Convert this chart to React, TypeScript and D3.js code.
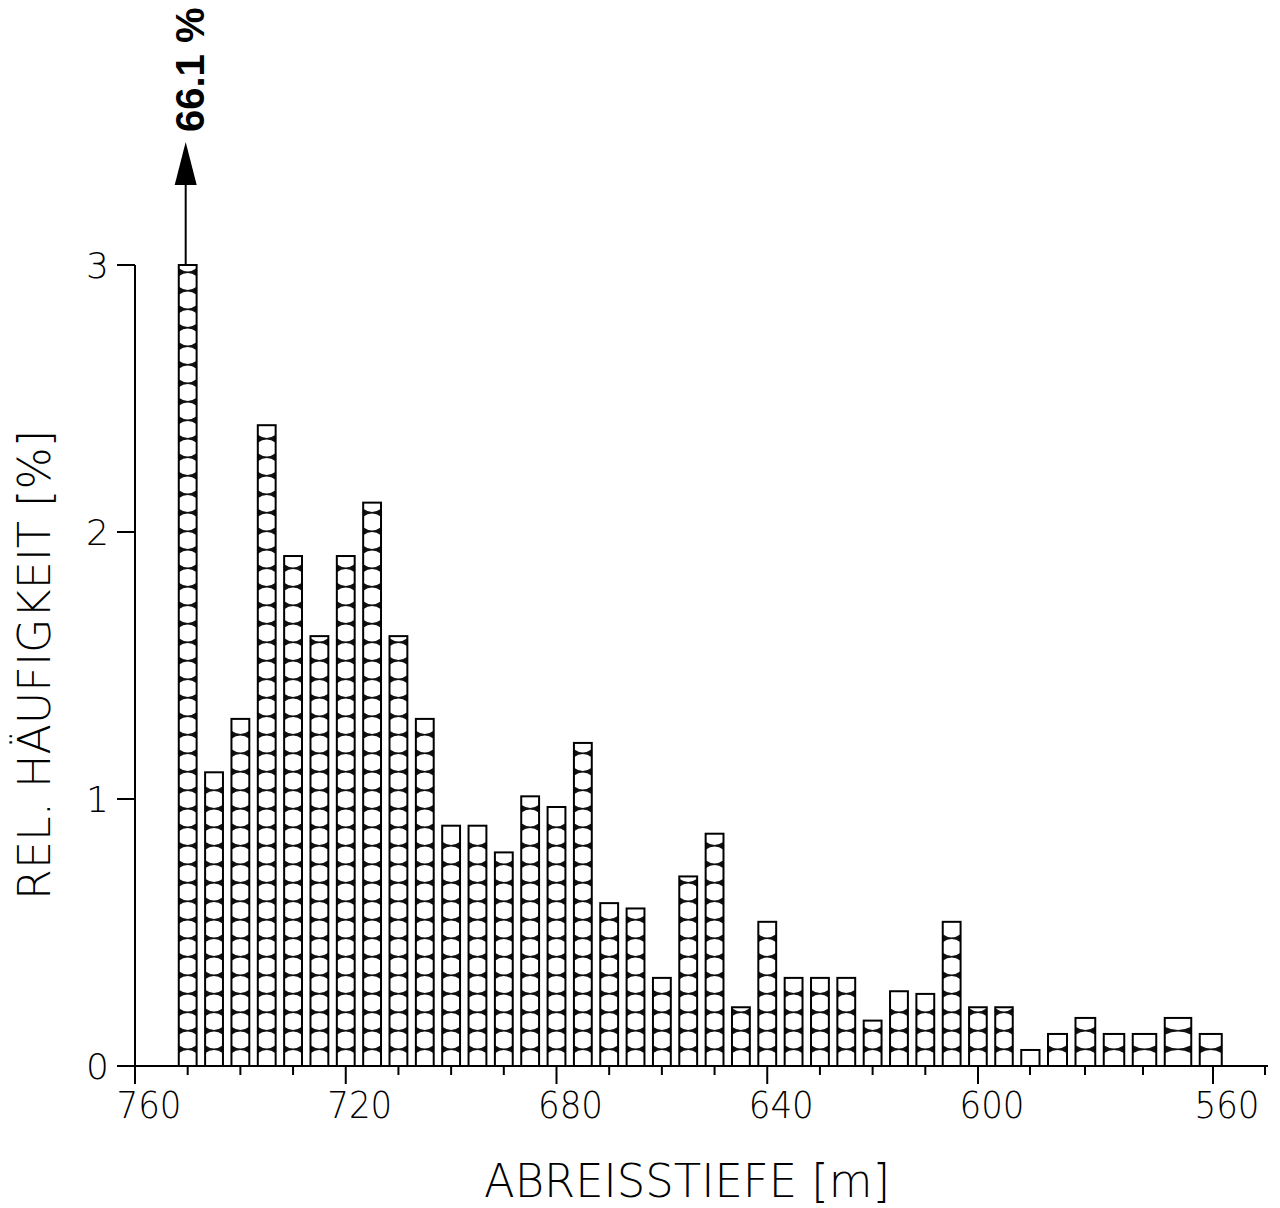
import React from 'react';
import * as d3 from 'd3';

// Bin centres (Abreisstiefe, m) and relative frequency (%)
const depths: number[] = [
  750, 745, 740, 735, 730, 725, 720, 715, 710, 705,
  700, 695, 690, 685, 680, 675, 670, 665, 660, 655,
  650, 645, 640, 635, 630, 625, 620, 615, 610, 605,
  600, 595, 590, 585, 580, 575, 570, 565, 560,
];
const freq: number[] = [
  66.1, 1.10, 1.30, 2.40, 1.91, 1.61, 1.91, 2.11, 1.61, 1.30,
  0.90, 0.90, 0.80, 1.01, 0.97, 1.21, 0.61, 0.59, 0.33, 0.71,
  0.87, 0.22, 0.54, 0.33, 0.33, 0.33, 0.17, 0.28, 0.27, 0.54,
  0.22, 0.22, 0.06, 0.12, 0.18, 0.12, 0.12, 0.18, 0.12,
];
const xMajorTicks: number[] = [760, 720, 680, 640, 600, 560];
const xMinorTicks: number[] = [750, 740, 730, 710, 700, 690, 670, 660, 650, 630, 620, 610, 590, 580, 570, 550];
const yTicks: number[] = [0, 1, 2, 3];
const yMax = 3;
const xLabel = 'ABREISSTIEFE [m]';
const yLabel = 'REL. HÄUFIGKEIT [%]';

const W = 1280;
const H = 1208;
const FONT = "'DejaVu Sans', 'Liberation Sans', sans-serif";

export default function App() {
  // the scanned axis is slightly stretched at its right end
  const x = d3.scaleLinear()
    .domain([760, 600, 590, 580, 570, 560, 550])
    .range([135, 978, 1030, 1085, 1143, 1213, 1265]);
  const y = d3.scaleLinear().domain([0, yMax]).range([1066, 265]);
  const y0 = y(0);
  const period = 18.5;
  const firstBand = 16.7;
  const gap = 8.5;
  const bh = 4.0;

  const bars = depths.map((d, i) => {
    const v = freq[i];
    const top = y(Math.min(v, yMax));
    const xl = x(d + 2.5);
    const xr = x(d - 2.5);
    const cx = (xl + xr) / 2;
    const w = xr - xl - gap;
    const x0 = cx - w / 2;
    const x1 = cx + w / 2;
    const bands: string[] = [];
    for (let by = y0 - firstBand; by > top + 3; by -= period) {
      bands.push(
        `M${x0},${by - bh} Q${cx},${by + bh * 0.6} ${x1},${by - bh} L${x1},${by + bh} Q${cx},${by - bh * 0.6} ${x0},${by + bh} Z`
      );
    }
    return { d, v, top, x0, x1, cx, w, bands, i };
  });

  const over = bars.filter((b) => b.v > yMax);

  return (
    <svg width={W} height={H} viewBox={`0 0 ${W} ${H}`}
      style={{ position: 'absolute', left: 0, top: 0, background: '#fff' }}>
      <defs>
        {bars.map((b) => (
          <clipPath id={`clip${b.i}`} key={b.i}>
            <rect x={b.x0} y={b.top} width={b.w} height={y0 - b.top} />
          </clipPath>
        ))}
      </defs>
      <rect x={0} y={0} width={W} height={H} fill="#fff" />

      {/* bars */}
      {bars.map((b) => (
        <g key={b.i}>
          <rect x={b.x0} y={b.top} width={b.w} height={y0 - b.top} fill="#fff" />
          <g clipPath={`url(#clip${b.i})`}>
            {b.bands.map((p, k) => (
              <path key={k} d={p} fill="#111" />
            ))}
          </g>
          <rect x={b.x0} y={b.top} width={b.w} height={y0 - b.top} fill="none" stroke="#000" strokeWidth={2} />
        </g>
      ))}

      {/* off-scale marker */}
      {over.map((b) => (
        <g key={`o${b.i}`}>
          <line x1={b.cx - 2} x2={b.cx - 2} y1={b.top} y2={183} stroke="#000" strokeWidth={2} />
          <path d={`M${b.cx - 2},142 L${b.cx - 13},185 L${b.cx + 9},185 Z`} fill="#000" />
          <text transform={`translate(${b.cx + 16},132) rotate(-90)`} fontFamily="'Liberation Sans', Arial, sans-serif"
            fontWeight="bold" fontSize={40} fill="#000">{`${b.v.toFixed(1)} %`}</text>
        </g>
      ))}

      {/* axes */}
      <line x1={118} x2={1268} y1={y0} y2={y0} stroke="#000" strokeWidth={2} />
      <line x1={135} x2={135} y1={y(yMax)} y2={y0} stroke="#000" strokeWidth={2} />

      {xMajorTicks.map((t) => (
        <g key={`M${t}`}>
          <line x1={x(t)} x2={x(t)} y1={y0} y2={y0 + 18} stroke="#000" strokeWidth={2} />
          <text x={x(t) + 14} y={1118} textAnchor="middle" fontFamily={FONT} fontSize={38} fontWeight={200}
            textLength={65} lengthAdjust="spacingAndGlyphs" fill="#000">{t}</text>
        </g>
      ))}
      {xMinorTicks.map((t) => (
        <line key={`m${t}`} x1={x(t)} x2={x(t)} y1={y0 + 1} y2={y0 + 9} stroke="#000" strokeWidth={2} />
      ))}

      {yTicks.map((t) => (
        <g key={`y${t}`}>
          <line x1={117} x2={135} y1={y(t)} y2={y(t)} stroke="#000" strokeWidth={2} />
          <text x={109} y={y(t) + 13} textAnchor="end" fontFamily={FONT} fontSize={36} fontWeight={200} fill="#000">{t}</text>
        </g>
      ))}

      {/* axis titles */}
      <text x={687} y={1197} textAnchor="middle" fontFamily={FONT} fontSize={46} fontWeight={200}
        textLength={406} lengthAdjust="spacingAndGlyphs" fill="#000">{xLabel}</text>
      <text transform="translate(50,665) rotate(-90)" textAnchor="middle" fontFamily={FONT} fontSize={44}
        fontWeight={200} textLength={470} lengthAdjust="spacingAndGlyphs" fill="#000">{yLabel}</text>
    </svg>
  );
}
